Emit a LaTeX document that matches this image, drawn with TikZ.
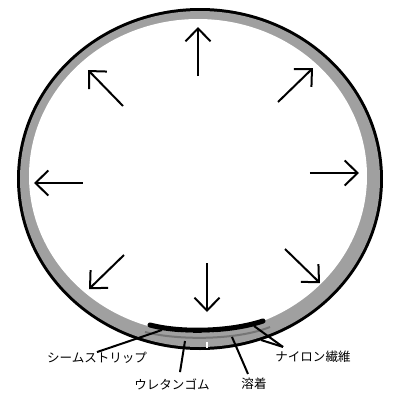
\documentclass[tikz,border=0pt]{standalone}
\usepackage{fontspec}
\newfontfamily\jpfont{Noto Sans CJK JP}
\usetikzlibrary{arrows.meta,positioning}
\definecolor{band}{HTML}{A0A0A0}
\definecolor{seam}{HTML}{767676}
\tikzset{push/.style={-{Straight Barb[length=3.4mm,width=6.6mm]},line width=1.5pt},lbl/.style={inner sep=0pt,font=\jpfont\fontsize{9.4pt}{11pt}\selectfont},leader/.style={line width=1.5pt},strip/.style={line width=3.8pt,line cap=round}}

\begin{document}
\begin{tikzpicture}[x=0.75pt,y=-0.75pt]
\useasboundingbox (0,0) rectangle (393,394);
% suit wall
\fill[black] (200,179) ellipse [x radius=183,y radius=171];
\fill[band] (200,179) ellipse [x radius=180,y radius=168];
\fill[white] (198,176) ellipse [x radius=169,y radius=157];
% seam
\draw[seam,line width=1.5pt] (145,332) .. controls (175,340) and (235,341) .. (270,327);
\draw[strip] (150,325) .. controls (180,333) and (230,332) .. (263,321);
\draw[white,line width=1.2pt] (207,342) -- (207,348);
% pressure
\draw[push] (198,76) -- (198,27);
\draw[push] (123,106) -- (88,70);
\draw[push] (278,102) -- (313,68);
\draw[push] (83,183) -- (34,183);
\draw[push] (310,173) -- (359,173);
\draw[push] (124,255) -- (89,289);
\draw[push] (207,263) -- (207,312);
\draw[push] (285,249) -- (320,283);
% labels
\node[lbl] (seamLbl) at (97,358) {シームストリップ};
\node[lbl] (ureLbl) at (172,384) {ウレタンゴム};
\node[lbl] (weldLbl) at (254,384) {溶着};
\node[lbl] (nylonLbl) at (313,357) {ナイロン繊維};
\coordinate (stripPt) at (162,330);
\coordinate (urePt) at (185,341);
\coordinate (weldPt) at (232,337);
\coordinate (nylonIn) at (254,326);
\coordinate (nylonOut) at (261,340);
\draw[leader] (seamLbl.north) -- (stripPt);
\draw[leader] ([shift={(8,-6)}]ureLbl.north) -- (urePt);
\draw[leader] ([shift={(-6,-4)}]weldLbl.north) -- (weldPt);
\draw[leader] ([shift={(-30,-4)}]nylonLbl.north) -- (nylonIn);
\draw[leader] ([shift={(-30,-4)}]nylonLbl.north) -- (nylonOut);
\end{tikzpicture}
\end{document}
